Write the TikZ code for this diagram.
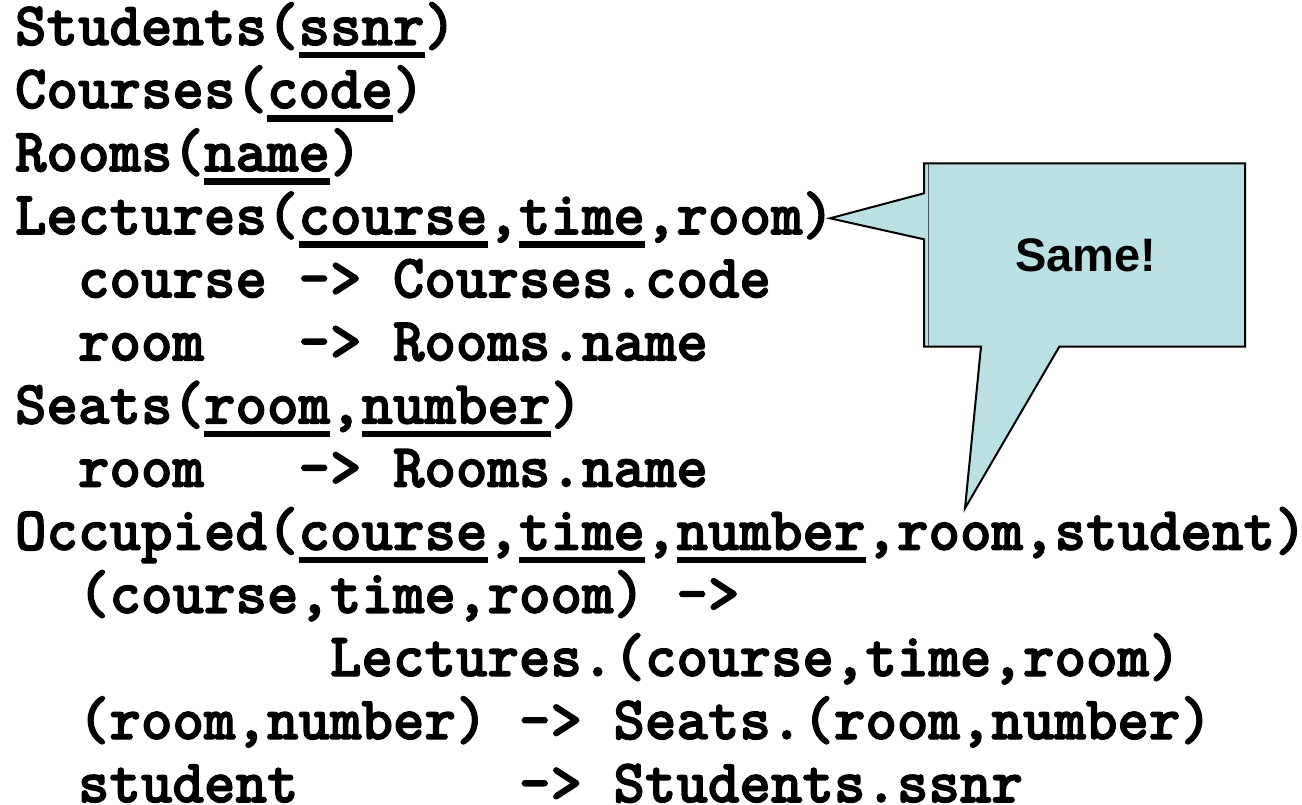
\documentclass[tikz,border=0pt]{standalone}
\usepackage{fontspec}
% heavy slab typewriter face for the schema text
\newfontfamily\codefont{lmmonolt10-bold}[Extension=.otf,FakeStretch=0.9725,FakeBold=2]
\newfontfamily\notefont{Liberation Sans}
\definecolor{calloutfill}{RGB}{187,224,227}
% key attributes: text with a thick rule below it
\newcommand\ukey[1]{\setbox0\hbox{#1}\rlap{\rule[-13.5pt]{\wd0}{6.5pt}}\box0}

\begin{document}
\begin{tikzpicture}[x=1pt,y=-1pt,
  code/.style={anchor=base west,inner sep=0pt,outer sep=0pt,
    font=\codefont\fontsize{61.7}{63}\selectfont},
  note/.style={anchor=base,inner sep=0pt,
    font=\notefont\bfseries\fontsize{47}{52}\selectfont},
  balloon/.style={fill=calloutfill,draw=black,line width=2pt,line join=miter}]
\useasboundingbox (0,0) rectangle (1302,805);

% column c starts at 15 + 31.5 c, line i has its baseline at 45 + 63.1 i
\node[code] (students) at (15,45)      {Students(\ukey{ssnr})};
\node[code] (courses)  at (15,108.1)   {Courses(\ukey{code})};
\node[code] (rooms)    at (15,171.2)   {Rooms(\ukey{name})};
\node[code] (lectures) at (15,234.3)   {Lectures(\ukey{course},\ukey{time},room)};
\node[code] (lcA)      at (78,297.4)   {course};
\node[code] (lcB)      at (298.5,297.4){-> Courses.code};
\node[code] (lrA)      at (78,360.5)   {room};
\node[code] (lrB)      at (298.5,360.5){-> Rooms.name};
\node[code] (seats)    at (15,423.6)   {Seats(\ukey{room},\ukey{number})};
\node[code] (srA)      at (78,486.7)   {room};
\node[code] (srB)      at (298.5,486.7){-> Rooms.name};
\node[code] (occupied) at (15,549.8)   {Occupied(\ukey{course},\ukey{time},\ukey{number},room,student)};
\node[code] (ofkA)     at (78,612.9)   {(course,time,room) ->};
\node[code] (ofkB)     at (330,676)    {Lectures.(course,time,room)};
\node[code] (osA)      at (78,739.1)   {(room,number)};
\node[code] (osB)      at (519,739.1)  {-> Seats.(room,number)};
\node[code] (ostA)     at (78,802.2)   {student};
\node[code] (ostB)     at (519,802.2)  {-> Students.ssnr};

% speech balloon with two pointers
\coordinate (tipL) at (830,218.3);
\coordinate (tipB) at (965,508.3);
\draw[balloon] (924,163.3) -- (1245,163.3) -- (1245,346.7) -- (1059.3,346.7)
  -- (tipB) -- (981,346.7) -- (924,346.7) -- (924,239.3) -- (tipL)
  -- (924,193.3) -- cycle;
\draw[line width=1pt,black!70] (928,164.3) -- (928,345.7);
\node[note] (same) at (1086,271.7) {Same!};
\end{tikzpicture}
\end{document}
